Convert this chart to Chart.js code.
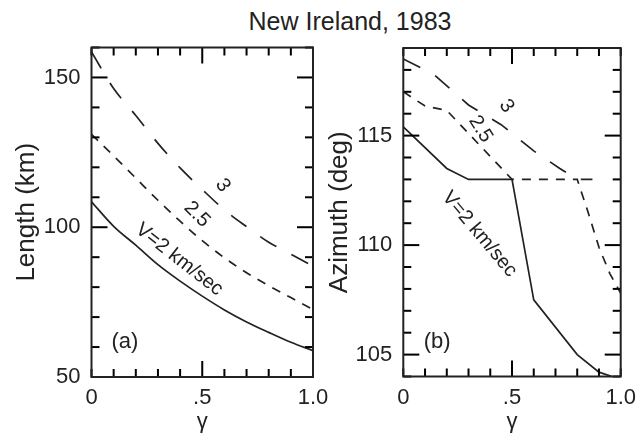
<!DOCTYPE html>
<html>
<head>
<meta charset="utf-8">
<script src="https://cdn.jsdelivr.net/npm/chart.js@4.4.1/dist/chart.umd.min.js"></script>
<style>
  html, body { margin:0; padding:0; background:#fff; }
  body { width:644px; height:438px; position:relative; overflow:hidden; }
  canvas { position:absolute; top:0; }
  #title { position:absolute; top:9px; left:350px; transform:translateX(-50%); white-space:nowrap;
           font-family:"Liberation Sans", Arial, Helvetica, sans-serif; font-size:25px; line-height:25px; color:#222; }
</style>
</head>
<body>
<div id="title">New Ireland, 1983</div>
<canvas id="cA" width="340" height="438" style="left:0px"></canvas>
<canvas id="cB" width="324" height="438" style="left:320px"></canvas>
<script>
// ---------- data ----------
// panel (a): Length (km) vs gamma
const gammaA = [0, 0.1, 0.2, 0.3, 0.4, 0.5, 0.6, 0.7, 0.8, 0.9, 1.0];
const lengthV2  = [108.5, 100.3, 94.0, 87.5, 82.0, 77.0, 72.4, 68.4, 64.9, 61.6, 58.8];
const lengthV25 = [131.0, 123.8, 116.4, 109.0, 102.0, 95.5, 89.8, 84.8, 80.5, 76.5, 72.5];
const lengthV3  = [158.5, 146.3, 137.3, 128.0, 119.8, 112.6, 105.8, 100.2, 95.0, 91.0, 87.0];
// panel (b): Azimuth (deg) vs gamma
const gammaB2  = [0, 0.2, 0.3, 0.5, 0.6, 0.8, 0.9, 0.96];
const azimV2   = [115.4, 113.5, 113.0, 113.0, 107.5, 105.0, 104.2, 104.0];
const gammaB25 = [0, 0.1, 0.2, 0.5, 0.8, 0.85, 0.9, 0.95, 1.0];
const azimV25  = [117.0, 116.35, 116.15, 113.0, 113.0, 111.5, 109.9, 108.7, 107.8];
const gammaB3  = [0, 0.14, 0.3, 0.45, 0.6, 0.72, 0.8, 0.87];
const azimV3   = [118.5, 117.8, 116.4, 115.5, 114.3, 113.5, 113.0, 113.0];
// tick labels
const xTickLabels = {0: '0', 0.5: '.5', 1: '1.0'};
const yTickLabelsA = [50, 100, 150];
const yTickLabelsB = [105, 110, 115];

// ---------- helpers ----------
const FONT = '"Liberation Sans", Arial, Helvetica, sans-serif';
const INK = '#222222';
const TICK = '#000000';
const pts = (xs, ys) => xs.map((v, i) => ({x: v, y: ys[i]}));
const near = (a, b) => Math.abs(a - b) < 1e-6;

function decorPlugin(cfg) {
  return {
    id: 'decor' + cfg.key,
    afterDraw(chart) {
      const ctx = chart.ctx, a = chart.chartArea, sx = chart.scales.x, sy = chart.scales.y;
      ctx.save();
      ctx.fillStyle = TICK;
      const W = 2;
      // inward tick marks (long ones at labelled values)
      for (let i = 0; i <= 10; i++) {
        const v = i / 10;
        const px = sx.getPixelForValue(v);
        const L = near(v, 0.5) ? 16 : 8;
        ctx.fillRect(px - W / 2, a.bottom - L, W, L);
        ctx.fillRect(px - W / 2, a.top, W, L);
      }
      const ny = Math.round((cfg.yMax - cfg.yMin) / cfg.yStep);
      for (let i = 0; i <= ny; i++) {
        const v = cfg.yMin + i * cfg.yStep;
        const py = sy.getPixelForValue(v);
        const L = cfg.yLabels.some(m => near(m, v)) ? 16 : 8;
        ctx.fillRect(a.left, py - W / 2, L, W);
        ctx.fillRect(a.right - L, py - W / 2, L, W);
      }
      // frame
      ctx.strokeStyle = INK;
      ctx.lineWidth = 2;
      ctx.strokeRect(a.left, a.top, a.right - a.left, a.bottom - a.top);
      // curve labels
      ctx.fillStyle = INK;
      ctx.textAlign = 'center';
      ctx.textBaseline = 'middle';
      cfg.labels.forEach(l => {
        ctx.save();
        ctx.translate(sx.getPixelForValue(l.gx), sy.getPixelForValue(l.gy));
        ctx.rotate(l.rot * Math.PI / 180);
        ctx.font = l.size + 'px ' + FONT;
        ctx.fillText(l.text, 0, 0);
        ctx.restore();
      });
      ctx.restore();
    }
  };
}

function makeChart(id, datasets, cfg) {
  cfg.key = id;
  return new Chart(document.getElementById(id), {
    type: 'line',
    data: {datasets},
    plugins: [decorPlugin(cfg)],
    options: {
      responsive: false,
      animation: false,
      events: [],
      layout: {padding: cfg.padding, autoPadding: false},
      elements: {point: {radius: 0}, line: {borderColor: INK, borderWidth: 1.7, fill: false}},
      plugins: {legend: {display: false}, tooltip: {enabled: false}},
      scales: {
        x: {
          type: 'linear', min: 0, max: 1,
          grid: {display: false, drawTicks: false}, border: {display: false},
          ticks: {
            stepSize: 0.1, autoSkip: false, maxRotation: 0, padding: 8,
            color: INK, font: {family: FONT, size: 22},
            callback: v => { for (const k in xTickLabels) if (near(+k, v)) return xTickLabels[k]; return ''; }
          },
          title: {display: true, text: 'γ', color: INK, font: {family: FONT, size: 22}, padding: {top: 0, bottom: 3}},
          afterFit: s => { s.height = cfg.xHeight; }
        },
        y: {
          type: 'linear', min: cfg.yMin, max: cfg.yMax,
          grid: {display: false, drawTicks: false}, border: {display: false},
          ticks: {
            stepSize: cfg.yStep, autoSkip: false, padding: 11,
            color: INK, font: {family: FONT, size: 22},
            callback: v => cfg.yLabels.some(m => near(m, v)) ? String(v) : ''
          },
          title: {display: true, text: cfg.yTitle, color: INK, font: {family: FONT, size: 26}, padding: {top: cfg.yTitlePad, bottom: 0}},
          afterFit: s => { s.width = cfg.yWidth; }
        }
      }
    }
  });
}

const solid = [], shortDash = [9, 8], longDash = [19, 17];

makeChart('cA', [
  {data: pts(gammaA, lengthV2),  borderDash: solid,     cubicInterpolationMode: 'monotone'},
  {data: pts(gammaA, lengthV25), borderDash: shortDash, cubicInterpolationMode: 'monotone'},
  {data: pts(gammaA, lengthV3),  borderDash: longDash,  cubicInterpolationMode: 'monotone'}
], {
  padding: {left: 0, top: 47.5, right: 27, bottom: 0},
  xHeight: 61, yWidth: 91.5,
  yMin: 50, yMax: 160, yStep: 10, yLabels: yTickLabelsA,
  yTitle: 'Length (km)', yTitlePad: 11,
  labels: [
    {text: '3', gx: 0.592, gy: 114.0, rot: 55, size: 20},
    {text: '2.5', gx: 0.476, gy: 104.3, rot: 45, size: 20},
    {text: 'V=2 km/sec', gx: 0.396, gy: 89.2, rot: 38, size: 20},
    {text: '(a)', gx: 0.151, gy: 61.7, rot: 0, size: 22}
  ]
});

makeChart('cB', [
  {data: pts(gammaB2, azimV2),   borderDash: solid,     tension: 0},
  {data: pts(gammaB25, azimV25), borderDash: shortDash, tension: 0},
  {data: pts(gammaB3, azimV3),   borderDash: longDash,  tension: 0}
], {
  padding: {left: 0, top: 48, right: 19, bottom: 0},
  xHeight: 61.5, yWidth: 83.3,
  yMin: 104, yMax: 119, yStep: 1, yLabels: yTickLabelsB,
  yTitle: 'Azimuth (deg)', yTitlePad: 4,
  labels: [
    {text: '3', gx: 0.475, gy: 116.35, rot: 55, size: 20},
    {text: '2.5', gx: 0.355, gy: 115.3, rot: 58, size: 20},
    {text: 'V=2 km/sec', gx: 0.35, gy: 110.5, rot: 50, size: 20},
    {text: '(b)', gx: 0.156, gy: 105.6, rot: 0, size: 22}
  ]
});
</script>
</body>
</html>
